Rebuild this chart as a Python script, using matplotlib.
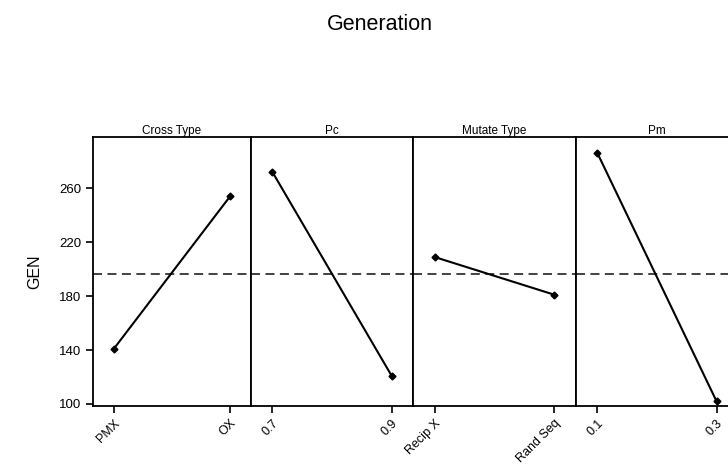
import matplotlib.pyplot as plt
import numpy as np

plt.rcParams['font.family'] = ['Liberation Sans', 'DejaVu Sans']

factors = ['Cross Type', 'Pc', 'Mutate Type', 'Pm']
levels = [['PMX', 'OX'], ['0.7', '0.9'], ['Recip X', 'Rand Seq'], ['0.1', '0.3']]
gen_means = [[141, 254], [272, 121], [209, 181], [286, 102]]
grand_mean = 196.5
yticks = [100, 140, 180, 220, 260]

fig = plt.figure(figsize=(7.28, 4.7), dpi=100)
edges = [93, 251, 413, 576, 738]  # panel borders in pixels
bottom = 1 - 406 / 470
h = (406 - 137) / 470

for i in range(4):
    ax = fig.add_axes([edges[i] / 728, bottom, (edges[i + 1] - edges[i]) / 728, h])
    x = np.arange(len(levels[i]))
    ax.axhline(grand_mean, color='#333333', linestyle=(0, (5, 3)), linewidth=1.3)
    ax.plot(x, gen_means[i], color='black', linewidth=1.5, marker='D', markersize=3.5)
    ax.set_xlim(-0.18, 1.18)
    ax.set_ylim(98.5, 298)
    ax.set_xticks(x)
    ax.set_xticklabels(levels[i], rotation=45, ha='right', va='top',
                       rotation_mode='anchor', fontsize=9)
    ax.set_title(factors[i], fontsize=8.5, pad=1.5)
    for s in ax.spines.values():
        s.set_linewidth(1.3)
    ax.tick_params(axis='x', length=5, width=1.2, direction='out', pad=3)
    if i == 0:
        ax.set_yticks(yticks)
        ax.tick_params(axis='y', length=5, width=1.2, labelsize=9.5)
        ax.set_ylabel('GEN', fontsize=11.5, labelpad=12)
    else:
        ax.set_yticks([])

fig.text(380 / 728, 1 - 25 / 470, 'Generation', ha='center', va='center', fontsize=15.5)

plt.savefig('out.png', dpi=100)
